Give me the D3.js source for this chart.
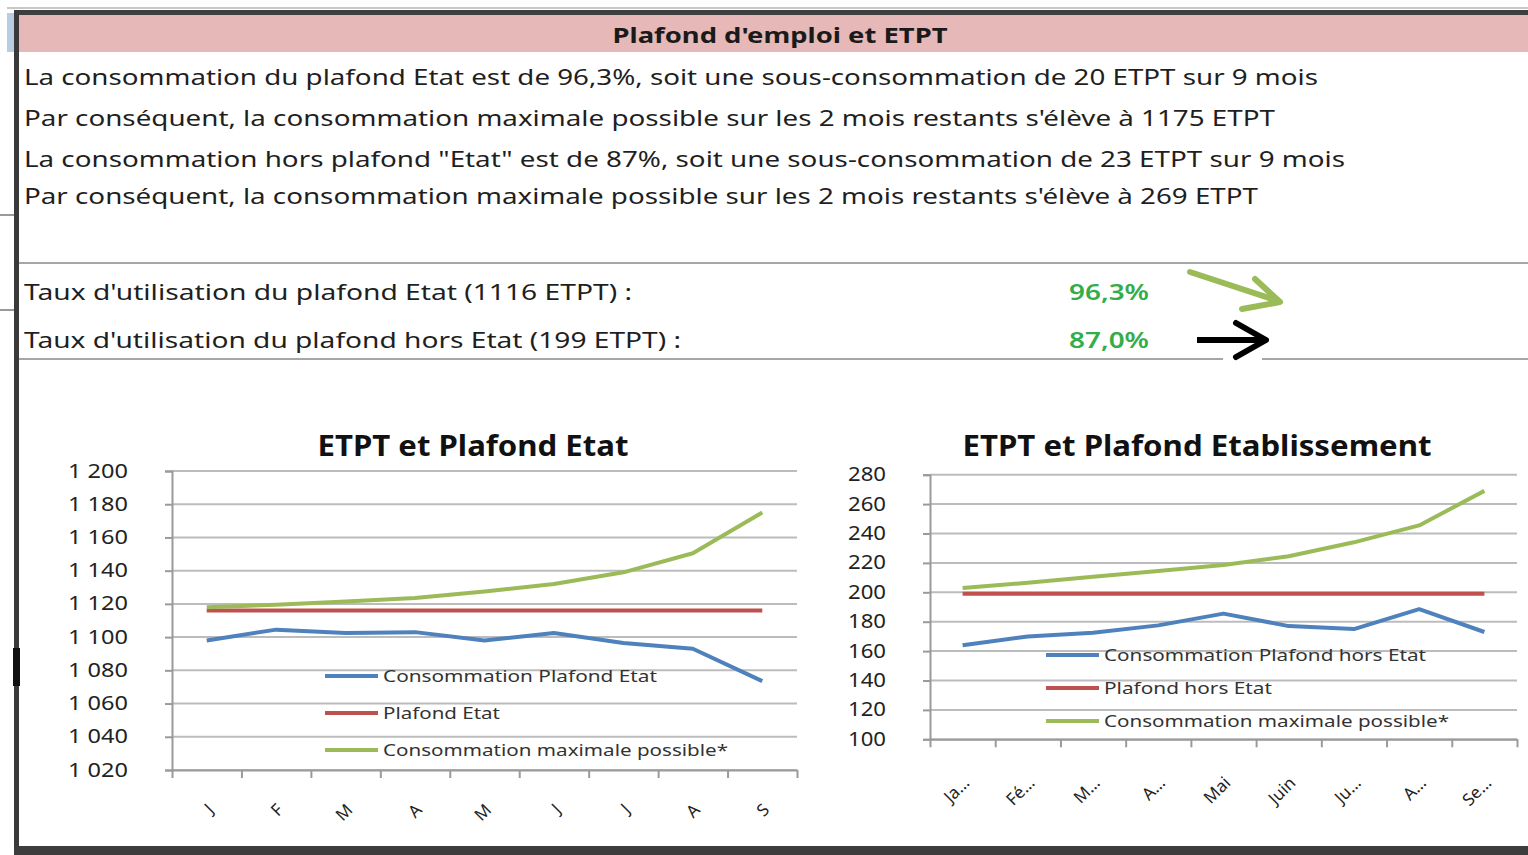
<!DOCTYPE html>
<html lang="fr">
<head>
<meta charset="UTF-8">
<title>Plafond d'emploi et ETPT</title>
<script src="https://cdn.jsdelivr.net/npm/d3@7"></script>
<style>
  html, body { margin: 0; padding: 0; background: #fff; }
  svg { display: block; font-family: "Noto Sans", sans-serif; }
</style>
</head>
<body>
<svg id="svg"></svg>
<script>
const moisEtat = ["J", "F", "M", "A", "M", "J", "J", "A", "S"];
const moisEtab = ["Ja…", "Fé…", "M…", "A…", "Mai", "Juin", "Ju…", "A…", "Se…"];

const consoEtat   = [1098, 1104.5, 1102.5, 1103, 1098, 1102.5, 1096.5, 1093, 1073.5];
const plafondEtat = [1116, 1116, 1116, 1116, 1116, 1116, 1116, 1116, 1116];
const maxEtat     = [1118, 1119.5, 1121.5, 1123.5, 1127.5, 1132, 1139, 1150.5, 1175];

const consoHorsEtat   = [164, 170, 172.5, 177.5, 185.5, 177, 175, 188.5, 173];
const plafondHorsEtat = [199, 199, 199, 199, 199, 199, 199, 199, 199];
const maxHorsEtat     = [203, 206.5, 210.5, 214.5, 218.5, 224.5, 234, 245.5, 269];

const yTicksEtat  = [1020, 1040, 1060, 1080, 1100, 1120, 1140, 1160, 1180, 1200];
const yLabelsEtat = ["1 020", "1 040", "1 060", "1 080", "1 100", "1 120", "1 140", "1 160", "1 180", "1 200"];
const yTicksEtab  = [100, 120, 140, 160, 180, 200, 220, 240, 260, 280];
const yLabelsEtab = ["100", "120", "140", "160", "180", "200", "220", "240", "260", "280"];

const legendEtat = ["Consommation Plafond Etat", "Plafond Etat", "Consommation maximale possible*"];
const legendEtab = ["Consommation Plafond hors Etat", "Plafond hors Etat", "Consommation maximale possible*"];
const couleurs = ["#4f81bd", "#c0504d", "#9bbb59"];

const titre = "Plafond d'emploi et ETPT";
const lignes = [
    "La consommation du plafond Etat est de 96,3%, soit une sous-consommation de 20 ETPT sur 9 mois",
    "Par conséquent, la consommation maximale possible sur les 2 mois restants s'élève à 1175 ETPT",
    "La consommation hors plafond \"Etat\" est de 87%, soit une sous-consommation de 23 ETPT sur 9 mois",
    "Par conséquent, la consommation maximale possible sur les 2 mois restants s'élève à 269 ETPT"
];
const tauxLibelles = ["Taux d'utilisation du plafond Etat (1116 ETPT) :", "Taux d'utilisation du plafond hors Etat (199 ETPT) :"];
const tauxValeurs = ["96,3%", "87,0%"];

const width = 1528;
const height = 855;
const svg = d3.select("#svg").attr("width", width).attr("height", height);

// --- cadre facon feuille Excel ---
svg.append("rect").attr("width", width).attr("height", height).attr("fill", "#fff");
svg.append("line").attr("x1", 7).attr("x2", width).attr("y1", 8).attr("y2", 8)
    .attr("stroke", "#c8c8c8").attr("stroke-width", 2);
svg.append("rect").attr("x", 7).attr("y", 13).attr("width", 7).attr("height", 39).attr("fill", "#b8cce4");
svg.append("rect").attr("x", 14).attr("y", 15).attr("width", width - 14).attr("height", 37).attr("fill", "#e6b8b7");
svg.append("rect").attr("x", 14).attr("y", 10).attr("width", width - 14).attr("height", 5).attr("fill", "#3f3f3f");
svg.append("rect").attr("x", 14).attr("y", 10).attr("width", 5).attr("height", height - 10).attr("fill", "#3a3a3a");
svg.append("rect").attr("x", 13).attr("y", 648).attr("width", 7).attr("height", 38).attr("fill", "#111");
svg.append("rect").attr("x", 14).attr("y", 846).attr("width", width - 14).attr("height", 9).attr("fill", "#3d3d3d");
[215, 310].forEach(function(yy) {
    svg.append("line").attr("x1", 0).attr("x2", 14).attr("y1", yy).attr("y2", yy)
        .attr("stroke", "#9a9a9a").attr("stroke-width", 2);
});

svg.append("text").attr("x", 780).attr("y", 43).attr("text-anchor", "middle")
    .attr("font-size", 22).attr("font-weight", "bold").attr("fill", "#1a1a1a")
    .attr("textLength", 335).attr("lengthAdjust", "spacingAndGlyphs").text(titre);

const lignesY = [85, 126, 167, 204];
const lignesW = [1294, 1251, 1321, 1234];
svg.selectAll("text.ligne").data(lignes).enter().append("text")
    .attr("class", "ligne")
    .attr("x", 24).attr("y", function(d, i) { return lignesY[i]; })
    .attr("font-size", 21).attr("fill", "#1f1f1f")
    .attr("textLength", function(d, i) { return lignesW[i]; })
    .attr("lengthAdjust", "spacingAndGlyphs")
    .text(function(d) { return d; });

// separateurs
svg.append("line").attr("x1", 19).attr("x2", width).attr("y1", 263).attr("y2", 263)
    .attr("stroke", "#a6a6a6").attr("stroke-width", 2);
svg.append("line").attr("x1", 19).attr("x2", 1223).attr("y1", 359).attr("y2", 359)
    .attr("stroke", "#a6a6a6").attr("stroke-width", 2);
svg.append("line").attr("x1", 1262).attr("x2", width).attr("y1", 359).attr("y2", 359)
    .attr("stroke", "#a6a6a6").attr("stroke-width", 2);

const tauxY = [300, 348];
const tauxW = [608, 657];
tauxLibelles.forEach(function(t, i) {
    svg.append("text").attr("x", 24).attr("y", tauxY[i])
        .attr("font-size", 21).attr("fill", "#1f1f1f")
        .attr("textLength", tauxW[i]).attr("lengthAdjust", "spacingAndGlyphs").text(t);
    svg.append("text").attr("x", 1149).attr("y", tauxY[i]).attr("text-anchor", "end")
        .attr("font-size", 21).attr("font-weight", 600).attr("fill", "#33ad4a")
        .attr("textLength", 80).attr("lengthAdjust", "spacingAndGlyphs").text(tauxValeurs[i]);
});

// fleches
svg.append("line").attr("x1", 1190).attr("y1", 272).attr("x2", 1272).attr("y2", 299)
    .attr("stroke", "#9bbb59").attr("stroke-width", 6).attr("stroke-linecap", "round");
svg.append("path").attr("d", "M1255,279 L1280,302 L1242,309")
    .attr("fill", "none").attr("stroke", "#9bbb59").attr("stroke-width", 6)
    .attr("stroke-linejoin", "round").attr("stroke-linecap", "round");
svg.append("line").attr("x1", 1197).attr("y1", 340).attr("x2", 1262).attr("y2", 340)
    .attr("stroke", "#000").attr("stroke-width", 6);
svg.append("path").attr("d", "M1236,323 L1266,340 L1236,357")
    .attr("fill", "none").attr("stroke", "#000").attr("stroke-width", 6)
    .attr("stroke-linejoin", "round").attr("stroke-linecap", "round");

// --- graphiques ---
function drawChart(cfg) {
    const g = svg.append("g");
    const x = d3.scaleLinear().domain([0, 9]).range([cfg.x0, cfg.x1]);
    const y = d3.scaleLinear().domain([cfg.yTicks[0], cfg.yTicks[cfg.yTicks.length - 1]])
        .range([cfg.yBottom, cfg.yTop]);

    g.append("text").attr("x", cfg.titleX).attr("y", cfg.titleY).attr("text-anchor", "middle")
        .attr("font-size", 28).attr("font-weight", "bold").attr("fill", "#111")
        .attr("textLength", cfg.titleW).attr("lengthAdjust", "spacingAndGlyphs").text(cfg.title);

    g.selectAll("line.grid").data(cfg.yTicks).enter().append("line")
        .attr("class", "grid")
        .attr("x1", cfg.x0).attr("x2", cfg.x1)
        .attr("y1", function(d) { return y(d); }).attr("y2", function(d) { return y(d); })
        .attr("stroke", "#bcbcbc").attr("stroke-width", 2);

    const yAxis = g.append("g").attr("transform", "translate(" + cfg.x0 + ",0)")
        .call(d3.axisLeft(y).tickValues(cfg.yTicks)
            .tickFormat(function(d, i) { return cfg.yLabels[i]; })
            .tickSize(7).tickPadding(37));
    yAxis.select(".domain").attr("stroke", "#9a9a9a").attr("stroke-width", 2);
    yAxis.selectAll(".tick line").attr("stroke", "#9a9a9a").attr("stroke-width", 2);
    yAxis.selectAll(".tick text").attr("font-size", 19).attr("fill", "#222")
        .attr("font-family", "Noto Sans, sans-serif")
        .attr("textLength", cfg.yLabelW).attr("lengthAdjust", "spacingAndGlyphs");

    const xAxis = g.append("g").attr("transform", "translate(0," + cfg.yBottom + ")")
        .call(d3.axisBottom(x).tickValues(d3.range(10)).tickFormat("").tickSize(8).tickSizeOuter(0));
    xAxis.select(".domain").attr("stroke", "#9a9a9a").attr("stroke-width", 2);
    xAxis.selectAll(".tick line").attr("stroke", "#9a9a9a").attr("stroke-width", 2);

    g.selectAll("text.mois").data(cfg.mois).enter().append("text")
        .attr("class", "mois")
        .attr("text-anchor", "end").attr("font-size", 17).attr("fill", "#222")
        .attr("transform", function(d, i) {
            return "translate(" + (x(i + 0.5) + 8) + "," + cfg.labelY + ") rotate(-45)";
        })
        .text(function(d) { return d; });

    const line = d3.line()
        .x(function(d, i) { return x(i + 0.5); })
        .y(function(d) { return y(d); });
    cfg.series.forEach(function(s, k) {
        g.append("path").datum(s).attr("d", line)
            .attr("fill", "none").attr("stroke", couleurs[k]).attr("stroke-width", 4)
            .attr("stroke-linejoin", "round");
    });

    const leg = g.selectAll("g.leg").data(cfg.legend).enter().append("g")
        .attr("class", "leg")
        .attr("transform", function(d, i) { return "translate(" + cfg.legX + "," + cfg.legY[i] + ")"; });
    leg.append("line").attr("x1", 0).attr("x2", 53)
        .attr("stroke", function(d, i) { return couleurs[i]; }).attr("stroke-width", 4);
    leg.append("text").attr("x", 58).attr("y", 6).attr("font-size", 17).attr("fill", "#333")
        .attr("textLength", function(d, i) { return cfg.legW[i]; })
        .attr("lengthAdjust", "spacingAndGlyphs")
        .text(function(d) { return d; });
}

drawChart({
    title: "ETPT et Plafond Etat", titleX: 473, titleY: 456, titleW: 311,
    x0: 172, x1: 797, yTop: 471, yBottom: 770,
    yTicks: yTicksEtat, yLabels: yLabelsEtat, yLabelW: 60,
    mois: moisEtat, labelY: 811,
    series: [consoEtat, plafondEtat, maxEtat],
    legend: legendEtat, legX: 325, legY: [676, 713, 750], legW: [274, 117, 345]
});

drawChart({
    title: "ETPT et Plafond Etablissement", titleX: 1197, titleY: 456, titleW: 469,
    x0: 930, x1: 1517, yTop: 474.7, yBottom: 739.3,
    yTicks: yTicksEtab, yLabels: yLabelsEtab, yLabelW: 38,
    mois: moisEtab, labelY: 784,
    series: [consoHorsEtat, plafondHorsEtat, maxHorsEtat],
    legend: legendEtab, legX: 1046, legY: [655, 688, 721], legW: [322, 168, 345]
});
</script>
</body>
</html>
